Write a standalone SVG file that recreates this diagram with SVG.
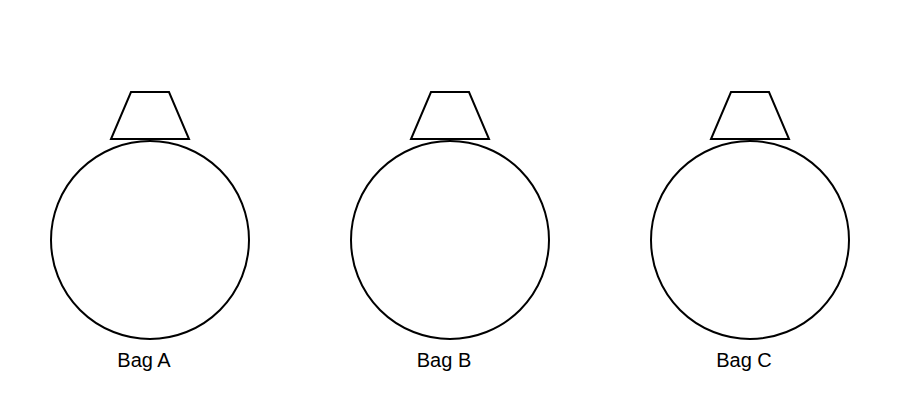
<svg xmlns="http://www.w3.org/2000/svg" width="900" height="420" viewBox="0 0 900 420">
<style>
.bag{fill:none;stroke:#000;stroke-width:2}
.neck{fill:#fff;stroke:#000;stroke-width:2;stroke-linejoin:miter}
.lbl{font-family:"Liberation Sans",Arial,sans-serif;font-size:20px;fill:#000;text-anchor:middle}
</style>
<rect width="900" height="420" fill="#fff"/>
<g id="bagA">
<circle class="bag" cx="150" cy="240" r="99"/>
<polygon class="neck" points="131,92 169,92 189,139 111,139"/>
<text class="lbl" x="144" y="367">Bag A</text>
</g>
<g id="bagB">
<circle class="bag" cx="450" cy="240" r="99"/>
<polygon class="neck" points="431,92 469,92 489,139 411,139"/>
<text class="lbl" x="444" y="367">Bag B</text>
</g>
<g id="bagC">
<circle class="bag" cx="750" cy="240" r="99"/>
<polygon class="neck" points="731,92 769,92 789,139 711,139"/>
<text class="lbl" x="744" y="367">Bag C</text>
</g>
<g id="connectors"></g>
</svg>
